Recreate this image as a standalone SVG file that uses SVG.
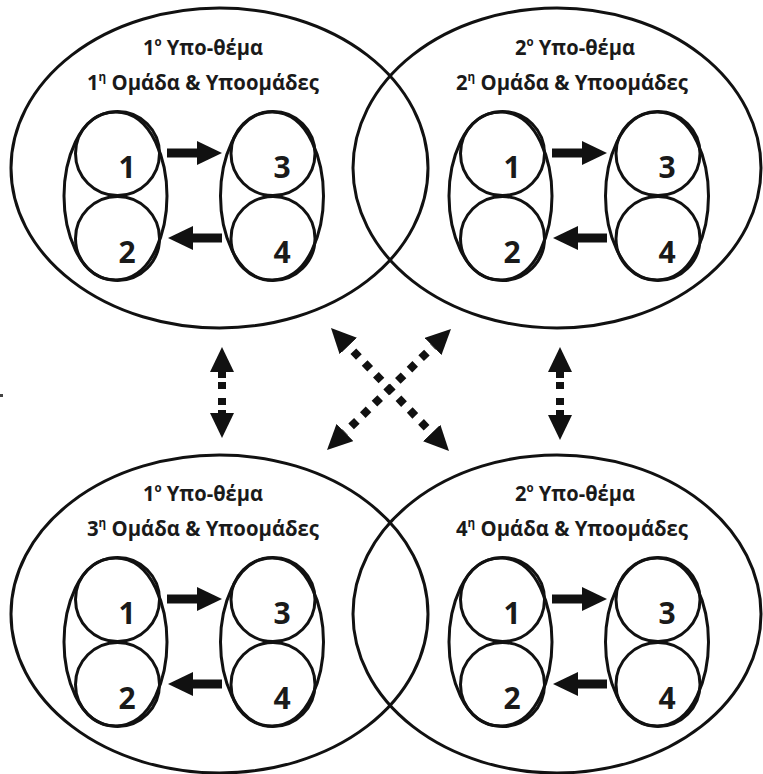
<svg xmlns="http://www.w3.org/2000/svg" width="763" height="774" viewBox="0 0 763 774">
<defs>
<style>
.big{fill:none;stroke:#111;stroke-width:3}
.sn{fill:none;stroke:#111;stroke-width:3}
.num{font-family:"Open Sans","Liberation Sans",sans-serif;font-weight:700;font-size:30px;fill:#1a1a1a;text-anchor:middle}
.title{font-family:"Open Sans","Liberation Sans",sans-serif;font-weight:700;font-size:21px;fill:#1a1a1a;text-anchor:middle}
.sup{font-size:12px}
.solid{stroke:#111;stroke-width:9;fill:none}
.dot{stroke:#111;stroke-width:8;fill:none}
</style>
<marker id="ah" markerUnits="userSpaceOnUse" markerWidth="25" markerHeight="24" viewBox="0 0 25 24" refX="0" refY="12" orient="auto-start-reverse"><path d="M0,0 L25,12 L0,24 Z" fill="#111"/></marker>
<g id="pairL">
<path class="sn" d="M115.5,112 C153.7,112 167,164 167,196 C167,228 153.7,280 115.5,280 C77.3,280 64,228 64,196 C64,164 77.3,112 115.5,112 Z"/>
<circle class="sn" cx="117.5" cy="153.5" r="42"/>
<circle class="sn" cx="117.5" cy="238.5" r="42"/>
</g>
<g id="pairR">
<path class="sn" d="M272,112 C310.2,112 323.5,164 323.5,196 C323.5,228 310.2,280 272,280 C233.8,280 220.5,228 220.5,196 C220.5,164 233.8,112 272,112 Z"/>
<circle class="sn" cx="273" cy="153.5" r="42"/>
<circle class="sn" cx="273" cy="238.5" r="42"/>
</g>
</defs>
<rect x="0" y="394" width="3" height="3" fill="#444"/>

<g id="cluster-tl">
<ellipse class="big" cx="219.5" cy="168" rx="208.5" ry="160"/>
<text class="title" x="203" y="55" textLength="120" lengthAdjust="spacingAndGlyphs">1<tspan class="sup" dy="-9">ο</tspan><tspan dy="9"> Υπο-θέμα</tspan></text>
<text class="title" x="203" y="90" textLength="232" lengthAdjust="spacingAndGlyphs">1<tspan class="sup" dy="-9">η</tspan><tspan dy="9"> Ομάδα &amp; Υποομάδες</tspan></text>
<g id="tl-n12"><use href="#pairL"/><text class="num" x="127" y="178">1</text><text class="num" x="127" y="263">2</text></g>
<g id="tl-n34"><use href="#pairR"/><text class="num" x="282" y="178">3</text><text class="num" x="282" y="263">4</text></g>
</g>

<g id="cluster-tr">
<ellipse class="big" cx="557" cy="168" rx="204" ry="160"/>
<text class="title" x="575" y="55" textLength="120" lengthAdjust="spacingAndGlyphs">2<tspan class="sup" dy="-9">ο</tspan><tspan dy="9"> Υπο-θέμα</tspan></text>
<text class="title" x="572" y="90" textLength="232" lengthAdjust="spacingAndGlyphs">2<tspan class="sup" dy="-9">η</tspan><tspan dy="9"> Ομάδα &amp; Υποομάδες</tspan></text>
<g id="tr-n12" transform="translate(385,0)"><use href="#pairL"/><text class="num" x="127" y="178">1</text><text class="num" x="127" y="263">2</text></g>
<g id="tr-n34" transform="translate(385,0)"><use href="#pairR"/><text class="num" x="282" y="178">3</text><text class="num" x="282" y="263">4</text></g>
</g>

<g id="cluster-bl">
<ellipse class="big" cx="219.5" cy="614" rx="208.5" ry="159"/>
<text class="title" x="203" y="501" textLength="120" lengthAdjust="spacingAndGlyphs">1<tspan class="sup" dy="-9">ο</tspan><tspan dy="9"> Υπο-θέμα</tspan></text>
<text class="title" x="203" y="536" textLength="232" lengthAdjust="spacingAndGlyphs">3<tspan class="sup" dy="-9">η</tspan><tspan dy="9"> Ομάδα &amp; Υποομάδες</tspan></text>
<g id="bl-n12" transform="translate(0,446)"><use href="#pairL"/><text class="num" x="127" y="178">1</text><text class="num" x="127" y="263">2</text></g>
<g id="bl-n34" transform="translate(0,446)"><use href="#pairR"/><text class="num" x="282" y="178">3</text><text class="num" x="282" y="263">4</text></g>
</g>

<g id="cluster-br">
<ellipse class="big" cx="557" cy="614" rx="204" ry="159"/>
<text class="title" x="575" y="501" textLength="120" lengthAdjust="spacingAndGlyphs">2<tspan class="sup" dy="-9">ο</tspan><tspan dy="9"> Υπο-θέμα</tspan></text>
<text class="title" x="572" y="536" textLength="232" lengthAdjust="spacingAndGlyphs">4<tspan class="sup" dy="-9">η</tspan><tspan dy="9"> Ομάδα &amp; Υποομάδες</tspan></text>
<g id="br-n12" transform="translate(385,446)"><use href="#pairL"/><text class="num" x="127" y="178">1</text><text class="num" x="127" y="263">2</text></g>
<g id="br-n34" transform="translate(385,446)"><use href="#pairR"/><text class="num" x="282" y="178">3</text><text class="num" x="282" y="263">4</text></g>
</g>

<g id="connectors">
<g transform="translate(0,0)">
<line class="solid" x1="167" y1="153" x2="197" y2="153" marker-end="url(#ah)"/>
<line class="solid" x1="222" y1="238" x2="193" y2="238" marker-end="url(#ah)"/>
</g>
<g transform="translate(385,0)">
<line class="solid" x1="167" y1="153" x2="197" y2="153" marker-end="url(#ah)"/>
<line class="solid" x1="222" y1="238" x2="193" y2="238" marker-end="url(#ah)"/>
</g>
<g transform="translate(0,446)">
<line class="solid" x1="167" y1="153" x2="197" y2="153" marker-end="url(#ah)"/>
<line class="solid" x1="222" y1="238" x2="193" y2="238" marker-end="url(#ah)"/>
</g>
<g transform="translate(385,446)">
<line class="solid" x1="167" y1="153" x2="197" y2="153" marker-end="url(#ah)"/>
<line class="solid" x1="222" y1="238" x2="193" y2="238" marker-end="url(#ah)"/>
</g>
<line class="dot" x1="222" y1="372" x2="222" y2="413" stroke-dasharray="6 4 7 9 7 5 3" marker-start="url(#ah)" marker-end="url(#ah)"/>
<line class="dot" x1="560" y1="372" x2="560" y2="415" stroke-dasharray="6 4 7 9 7 5 5" marker-start="url(#ah)" marker-end="url(#ah)"/>
<line class="dot" x1="348.3" y1="346" x2="431.7" y2="433" stroke-dasharray="8 8.3" stroke-dashoffset="9" marker-start="url(#ah)" marker-end="url(#ah)"/>
<line class="dot" x1="433.1" y1="346.5" x2="344.9" y2="432.5" stroke-dasharray="8 8.3" stroke-dashoffset="7.6" marker-start="url(#ah)" marker-end="url(#ah)"/>
</g>
</svg>
